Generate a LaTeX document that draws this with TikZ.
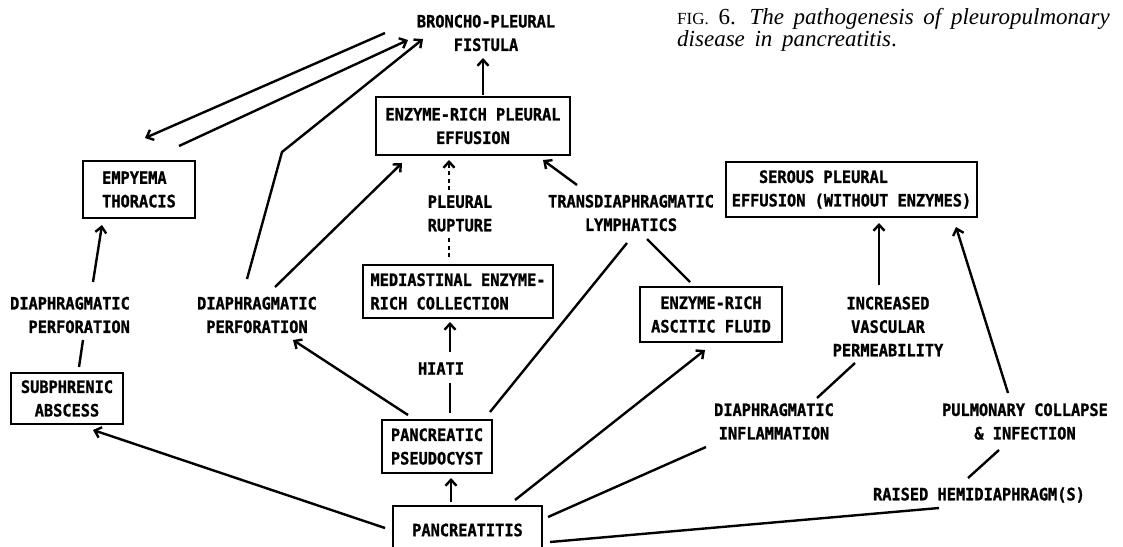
\documentclass[tikz,border=0pt]{standalone}
\usepackage{fontspec}
\usetikzlibrary{arrows.meta,calc}
\newfontfamily\lf{DejaVu Sans Mono}[FakeStretch=0.9,FakeBold=1.2]
\newfontfamily\capf{Liberation Serif}
\tikzset{
  lt/.style={font={\lf\bfseries\fontsize{17}{23.5}\selectfont}},
  box/.style={lt, draw, line width=2.8pt, inner sep=0pt, align=center},
  lbl/.style={lt, inner sep=0pt, align=center},
  con/.style={line width=2.4pt},
  arr/.style={con, -{Straight Barb[length=6pt,width=11pt]}},
  dotl/.style={con, dash pattern=on 4pt off 3.5pt},
}
\begin{document}
\begin{tikzpicture}[x=1pt,y=-1pt]
\useasboundingbox (0,0) rectangle (1123,546);
\clip (0,0) rectangle (1123,546);
% boxes
\node[box, minimum width=194pt, minimum height=58pt] (erpe) at (473,126) {ENZYME-RICH PLEURAL\\EFFUSION};
\node[box, minimum width=112pt, minimum height=57pt, align=left] (emp) at (139,189.5) {EMPYEMA\\THORACIS};
\node[box, minimum width=251pt, minimum height=55pt] (ser) at (851.5,189.5) {SEROUS PLEURAL\hspace*{56pt}\\EFFUSION (WITHOUT ENZYMES)};
\node[box, minimum width=190pt, minimum height=53pt, align=left] (med) at (458,291.5) {MEDIASTINAL ENZYME-\\RICH COLLECTION};
\node[box, minimum width=142pt, minimum height=55pt] (asc) at (711,314.5) {ENZYME-RICH\\ASCITIC FLUID};
\node[box, minimum width=112pt, minimum height=51pt] (sub) at (67,398.5) {SUBPHRENIC\\ABSCESS};
\node[box, minimum width=110pt, minimum height=53pt] (pse) at (437,446.5) {PANCREATIC\\PSEUDOCYST};
\node[box, minimum width=149pt, minimum height=48pt] (pan) at (467.5,530) {PANCREATITIS};
% labels
\node[lbl] (fist) at (486,33) {BRONCHO-PLEURAL\\FISTULA};
\node[lbl, align=right] (ldp) at (70,315) {DIAPHRAGMATIC\\PERFORATION};
\node[lbl] (mdp) at (257,315) {DIAPHRAGMATIC\\PERFORATION};
\node[lbl] (pr) at (460,213.5) {PLEURAL\\RUPTURE};
\node[lbl] (tr) at (631,213) {TRANSDIAPHRAGMATIC\\LYMPHATICS};
\node[lbl] (hia) at (441,368.5) {HIATI};
\node[lbl] (ivp) at (888,326.5) {INCREASED\\VASCULAR\\PERMEABILITY};
\node[lbl] (dinf) at (774,421.5) {DIAPHRAGMATIC\\INFLAMMATION};
\node[lbl] (pci) at (1025,421.5) {PULMONARY COLLAPSE\\\& INFECTION};
\node[lbl] (rh) at (979,495) {RAISED HEMIDIAPHRAGM(S)};
% caption
\node[anchor=north west, inner sep=0pt, align=left, font={\capf\fontsize{23}{20.5}\selectfont\spaceskip=0.42em plus 0.1em}] (cap) at (677,8)
  {{\fontsize{17}{20.5}\selectfont FIG.}~6.\hspace{0.6em}\textit{The pathogenesis of pleuropulmonary}\\\textit{disease in pancreatitis}.};
% connectors
\draw[arr] ($(erpe)+(10,-31)$) -- ($(fist)+(-3,25)$);
\draw[arr] ($(fist)+(-101,0)$) -- ($(emp)+(6,-51.5)$);
\draw[arr] ($(emp)+(40,-43.5)$) -- ($(fist)+(-78,7)$);
\draw[arr] ($(mdp)+(-10,-36)$) -- ($(mdp)+(25,-163)$) -- ($(fist)+(-63,6)$);
\draw[arr] ($(mdp)+(18,-28)$) -- ($(erpe)+(-71,37)$);
\draw[dotl] ($(med)+(-9,-34.5)$) -- ($(pr)+(-11,23.5)$);
\draw[dotl, -{Straight Barb[length=6pt,width=11pt]}] ($(pr)+(-11,-23.5)$) -- ($(erpe)+(-24,34)$);
\draw[arr] ($(tr)+(-54,-28)$) -- ($(erpe)+(70,34)$);
\draw[con] ($(pse)+(53,-34.5)$) -- ($(tr)+(-4,30)$);
\draw[con] ($(tr)+(16,26)$) -- ($(asc)+(-21,-32.5)$);
\draw[arr] ($(pse)+(-29,-31.5)$) -- ($(mdp)+(36,25)$);
\draw[con] ($(pse)+(13,-33.5)$) -- ($(hia)+(9,14.5)$);
\draw[arr] ($(hia)+(9,-16.5)$) -- ($(med)+(-8,30.5)$);
\draw[arr] ($(pan)+(-16.5,-28)$) -- ($(pse)+(14,31.5)$);
\draw[arr] ($(pan)+(-82.5,-2)$) -- ($(sub)+(26,31.5)$);
\draw[arr] ($(pan)+(47.5,-30)$) -- ($(asc)+(-6,35.5)$);
\draw[con] ($(pan)+(80.5,-13)$) -- ($(dinf)+(-68,25.5)$);
\draw[con] ($(pan)+(82.5,12)$) -- ($(rh)+(-40,13)$);
\draw[con] ($(dinf)+(43,-23.5)$) -- ($(ivp)+(-33,36.5)$);
\draw[arr] ($(ivp)+(-9,-41.5)$) -- ($(ser)+(27.5,33.5)$);
\draw[arr] ($(pci)+(-17,-28.5)$) -- ($(ser)+(104.5,37.5)$);
\draw[con] ($(rh)+(-11,-17)$) -- ($(pci)+(-26,28.5)$);
\draw[arr] ($(ldp)+(23,-33)$) -- ($(emp)+(-37,35.5)$);
\draw[con] ($(ldp)+(13,25)$) -- ($(sub)+(12,-31.5)$);
\end{tikzpicture}
\end{document}
